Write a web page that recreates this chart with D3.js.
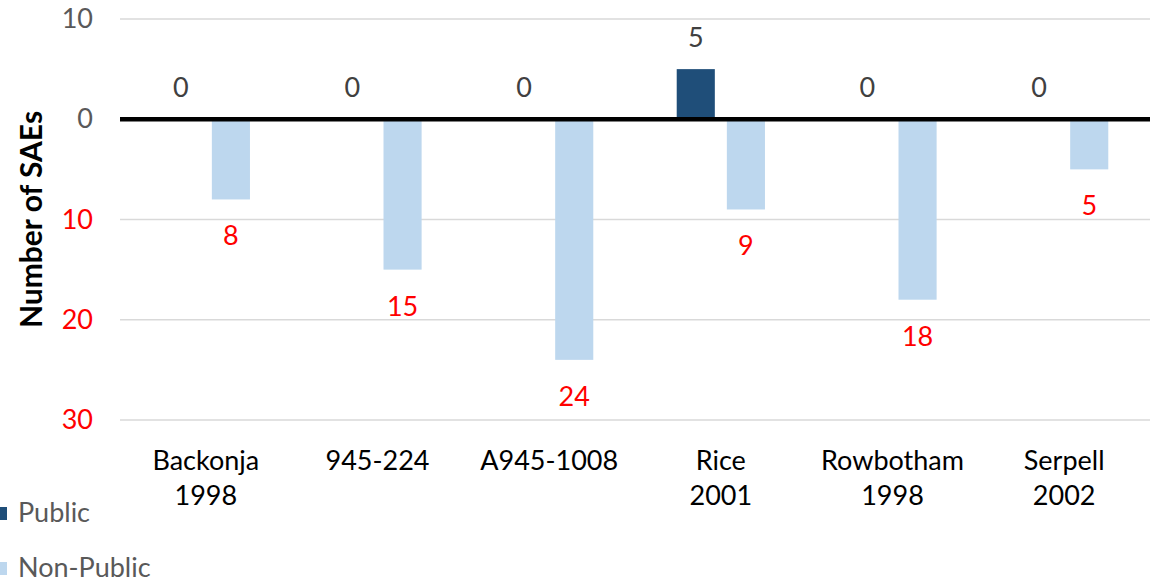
<!DOCTYPE html>
<html>
<head>
<meta charset="utf-8">
<script src="https://cdn.jsdelivr.net/npm/d3@7/dist/d3.min.js"></script>
<style>
  html, body { margin: 0; padding: 0; background: #fff; }
  svg { display: block; font-family: Lato, "Open Sans", sans-serif; }
</style>
</head>
<body>
<svg id="chart" width="1173" height="582"></svg>
<script>
// Serious adverse events per study, split by publication status
const categories = [["Backonja", "1998"], ["945-224"], ["A945-1008"], ["Rice", "2001"], ["Rowbotham", "1998"], ["Serpell", "2002"]];
const publicSAEs = [0, 0, 0, 5, 0, 0];
const nonPublicSAEs = [8, 15, 24, 9, 18, 5];
const yTicks = [10, 0, -10, -20, -30];
const seriesNames = ["Public", "Non-Public"];

const colors = { pub: "#1F4E79", nonPub: "#BDD7EE" };
const fontSize = 27;

const svg = d3.select("#chart");
const plotLeft = 120, plotRight = 1150, plotTop = 19, plotBottom = 420;

const x = d3.scaleBand()
  .domain(d3.range(categories.length))
  .range([plotLeft, plotRight])
  .paddingInner(0).paddingOuter(0);

// Public counts go up, non-public counts go down
const y = d3.scaleLinear().domain([-30, 10]).range([plotBottom, plotTop]);

const barW = x.bandwidth() * 0.222;
const offset = x.bandwidth() * 0.146;

// gridlines
svg.append("g")
  .selectAll("line")
  .data(yTicks.filter(t => t !== 0))
  .join("line")
  .attr("x1", plotLeft).attr("x2", plotRight)
  .attr("y1", d => y(d)).attr("y2", d => y(d))
  .attr("stroke", "#d9d9d9").attr("stroke-width", 1.5);

// y axis labels
const yAxis = d3.axisLeft(y).tickValues(yTicks).tickSize(0).tickPadding(0)
  .tickFormat(d => Math.abs(d));
const yg = svg.append("g").attr("transform", `translate(${93},0)`).call(yAxis);
yg.select(".domain").remove();
yg.selectAll("text")
  .attr("font-size", fontSize)
  .attr("font-family", "Lato, 'Open Sans', sans-serif")
  .attr("fill", d => d < 0 ? "#FF0000" : "#595959");

// y title
svg.append("text")
  .attr("transform", `translate(42,${(plotTop + plotBottom) / 2}) rotate(-90)`)
  .attr("text-anchor", "middle")
  .attr("font-size", 30)
  .attr("font-weight", "bold")
  .attr("fill", "#000")
  .text("Number of SAEs");

const idx = d3.range(categories.length);

// public bars
svg.append("g").selectAll("rect")
  .data(idx)
  .join("rect")
  .attr("x", i => x(i) + x.bandwidth() / 2 - offset - barW / 2)
  .attr("width", barW)
  .attr("y", i => y(publicSAEs[i]))
  .attr("height", i => y(0) - y(publicSAEs[i]))
  .attr("fill", colors.pub);

// non-public bars
svg.append("g").selectAll("rect")
  .data(idx)
  .join("rect")
  .attr("x", i => x(i) + x.bandwidth() / 2 + offset - barW / 2)
  .attr("width", barW)
  .attr("y", y(0))
  .attr("height", i => y(-nonPublicSAEs[i]) - y(0))
  .attr("fill", colors.nonPub);

// zero line
svg.append("line")
  .attr("x1", plotLeft).attr("x2", plotRight)
  .attr("y1", y(0)).attr("y2", y(0))
  .attr("stroke", "#000").attr("stroke-width", 4.5);

// value labels
svg.append("g").selectAll("text")
  .data(idx)
  .join("text")
  .attr("x", i => x(i) + x.bandwidth() / 2 - offset)
  .attr("y", i => y(publicSAEs[i]) - 22)
  .attr("text-anchor", "middle")
  .attr("font-size", fontSize)
  .attr("fill", "#404040")
  .text(i => publicSAEs[i]);

svg.append("g").selectAll("text")
  .data(idx)
  .join("text")
  .attr("x", i => x(i) + x.bandwidth() / 2 + offset)
  .attr("y", i => y(-nonPublicSAEs[i]) + 46)
  .attr("text-anchor", "middle")
  .attr("font-size", fontSize)
  .attr("fill", "#FF0000")
  .text(i => nonPublicSAEs[i]);

// category labels
const cat = svg.append("g").selectAll("text")
  .data(idx)
  .join("text")
  .attr("text-anchor", "middle")
  .attr("font-size", fontSize)
  .attr("fill", "#000");
cat.each(function(i) {
  const t = d3.select(this);
  categories[i].forEach((line, k) => {
    t.append("tspan")
      .attr("x", x(i) + x.bandwidth() / 2)
      .attr("y", 470 + k * 35)
      .text(line);
  });
});

// legend
const legend = svg.append("g");
seriesNames.forEach((name, k) => {
  const base = 522 + k * 55;
  legend.append("rect")
    .attr("x", -6).attr("y", base - 15)
    .attr("width", 13).attr("height", 13)
    .attr("fill", k === 0 ? colors.pub : colors.nonPub);
  legend.append("text")
    .attr("x", 18).attr("y", base)
    .attr("font-size", fontSize)
    .attr("fill", "#595959")
    .text(name);
});
</script>
</body>
</html>
